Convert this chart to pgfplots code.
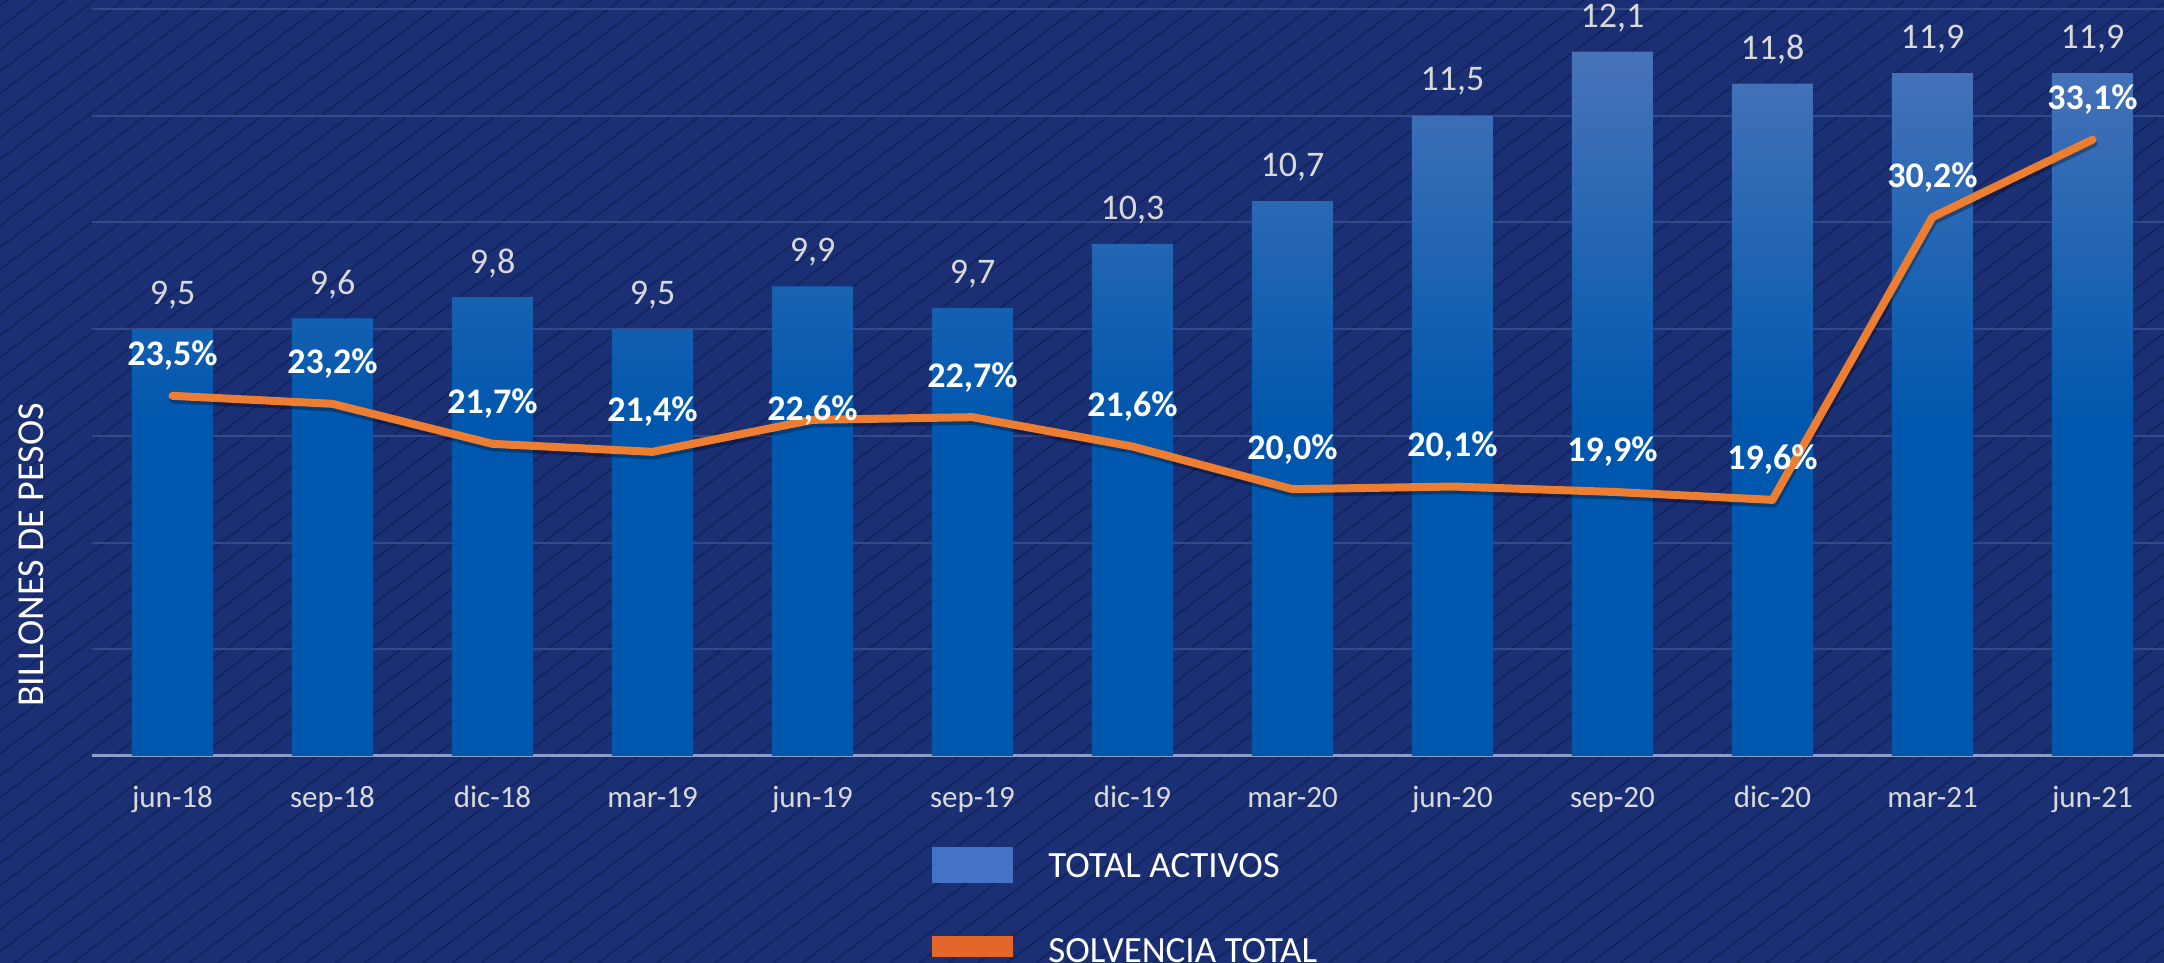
\documentclass[border=0pt]{standalone}
\usepackage{pgfplots}
\pgfplotsset{compat=1.18}
\usepackage{pgfplotstable}
\usepackage{fontspec}
\setmainfont{Carlito}
\definecolor{bg}{RGB}{27,47,116}
\definecolor{hatch}{RGB}{19,36,96}
\definecolor{gridc}{RGB}{52,72,138}
\definecolor{basec}{RGB}{140,158,204}
\definecolor{bartop}{RGB}{72,115,184}
\definecolor{barbot}{RGB}{0,88,174}
\definecolor{lineor}{RGB}{237,125,49}
\definecolor{legblue}{RGB}{68,114,196}
\definecolor{legor}{RGB}{227,103,42}
\definecolor{lblgray}{RGB}{217,217,217}
\pgfdeclareverticalshading{barshade}{100bp}{color(0bp)=(barbot); color(25bp)=(barbot); color(49bp)=(barbot); color(75bp)=(bartop); color(100bp)=(bartop)}

\pgfplotstableread{
x act lbl
0 9.5 9,5
1 9.6 9,6
2 9.8 9,8
3 9.5 9,5
4 9.9 9,9
5 9.7 9,7
6 10.3 10,3
7 10.7 10,7
8 11.5 11,5
9 12.1 12,1
10 11.8 11,8
11 11.9 11,9
12 11.9 11,9
}\activos

\pgfplotstableread{
x solv lbl dy
0 23.5 23,5 20
1 23.2 23,2 20
2 21.7 21,7 20
3 21.4 21,4 20
4 22.6 22,6 4.5
5 22.7 22,7 20
6 21.6 21,6 20
7 20.0 20,0 20
8 20.1 20,1 20
9 19.9 19,9 20
10 19.6 19,6 20
11 30.2 30,2 20
12 33.1 33,1 20
}\solvencia

\begin{document}
\begin{tikzpicture}
\useasboundingbox (0,0) rectangle (1082pt,481.5pt);
\clip (0,0) rectangle (1082pt,481.5pt);
\fill[bg] (0,0) rectangle (1082pt,481.5pt);
\foreach \i in {0,...,122} {
  \draw[hatch, line width=0.9pt] ({-650pt+\i*14.6pt},0) -- ++(639pt,481.5pt);
}
\node[rotate=90, text=white, font=\fontsize{19}{22}\selectfont] at (15.5pt,204pt) {BILLONES DE PESOS};

\begin{axis}[
  at={(46.25pt,103.5pt)}, anchor=south west,
  scale only axis, width=1040pt, height=373.5pt,
  xmin=-0.5, xmax=12.5, ymin=5.5, ymax=12.5,
  axis line style={draw=none},
  tick style={draw=none},
  ytick={6.5,7.5,...,12.5}, yticklabels={},
  ymajorgrids, grid style={gridc, line width=1pt},
  extra y ticks={5.5}, extra y tick labels={},
  extra y tick style={grid style={basec, line width=1.5pt}},
  xtick={0,...,12},
  xticklabels={jun-18,sep-18,dic-18,mar-19,jun-19,sep-19,dic-19,mar-20,jun-20,sep-20,dic-20,mar-21,jun-21},
  x tick label style={font=\fontsize{15.5}{18}\selectfont, text=lblgray, anchor=base, yshift=-26pt},
]
\addplot[ybar, bar width=40.5pt, bar shift=0pt, draw=none, shading=barshade,
  nodes near coords, point meta=explicit symbolic,
  every node near coord/.append style={font=\fontsize{18}{21}\selectfont, text=lblgray, anchor=center, yshift=17pt}]
  table[x=x, y=act, meta=lbl]{\activos};
\end{axis}

\begin{axis}[
  at={(46.25pt,103.5pt)}, anchor=south west,
  scale only axis, width=1040pt, height=373.5pt,
  xmin=-0.5, xmax=12.5, ymin=10, ymax=38,
  hide axis,
]
\addplot[black, opacity=0.3, line width=4pt, line cap=round, line join=round,
  transform canvas={yshift=-1.8pt, xshift=0.6pt}, forget plot]
  table[x=x, y=solv]{\solvencia};
\addplot[lineor, line width=4pt, line cap=round, line join=round,
  nodes near coords={\pgfplotspointmeta\%}, point meta=explicit symbolic,
  visualization depends on={\thisrow{dy} \as \labdy},
  every node near coord/.append style={font=\bfseries\fontsize{18}{21}\selectfont, text=white, anchor=center, yshift=\labdy pt}]
  table[x=x, y=solv, meta=lbl]{\solvencia};
\end{axis}

\fill[legblue] (466pt,40pt) rectangle (506.5pt,58pt);
\node[anchor=base west, inner sep=0pt, text=white, font=\fontsize{18.5}{22}\selectfont] at (524pt,42.5pt) {TOTAL ACTIVOS};
\fill[legor] (466pt,3pt) rectangle (506.5pt,13.5pt);
\node[anchor=base west, inner sep=0pt, text=white, font=\fontsize{18.5}{22}\selectfont] at (524pt,0pt) {SOLVENCIA TOTAL};
\end{tikzpicture}
\end{document}
